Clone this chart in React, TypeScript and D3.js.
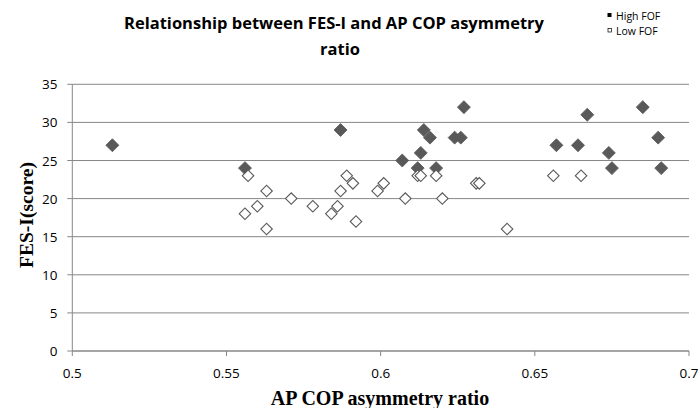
import React from "react";
import * as d3 from "d3";

const highX = [0.513, 0.556, 0.587, 0.607, 0.612, 0.613, 0.614, 0.616, 0.618, 0.624, 0.626, 0.627, 0.657, 0.664, 0.667, 0.674, 0.675, 0.685, 0.69, 0.691];
const highY = [27, 24, 29, 25, 24, 26, 29, 28, 24, 28, 28, 32, 27, 27, 31, 26, 24, 32, 28, 24];

const lowX = [0.556, 0.557, 0.56, 0.563, 0.563, 0.571, 0.578, 0.584, 0.586, 0.587, 0.589, 0.591, 0.592, 0.599, 0.601, 0.608, 0.612, 0.613, 0.618, 0.62, 0.631, 0.632, 0.641, 0.656, 0.665];
const lowY = [18, 23, 19, 21, 16, 20, 19, 18, 19, 21, 23, 22, 17, 21, 22, 20, 23, 23, 23, 20, 22, 22, 16, 23, 23];

const xTicks = [0.5, 0.55, 0.6, 0.65, 0.7];
const yTicks = [0, 5, 10, 15, 20, 25, 30, 35];
const xTickLabels = ["0.5", "0.55", "0.6", "0.65", "0.7"];

const W = 698;
const H = 408;
const left = 72.3;
const right = 689;
const top = 84.3;
const bottom = 351;

export default function App() {
  const x = d3.scaleLinear().domain([0.5, 0.7]).range([left, right]);
  const y = d3.scaleLinear().domain([0, 35]).range([bottom, top]);
  const diamond = d3.symbol().type(d3.symbolSquare).size(84)();
  const diamondOpen = d3.symbol().type(d3.symbolSquare).size(66)();
  const grid = "#878787";
  const markerCol = "#595959";
  const sans = "'Open Sans', 'Noto Sans', sans-serif";
  const serif = "'Liberation Serif', 'Times New Roman', serif";

  return (
    <svg width={W} height={H} style={{ position: "absolute", left: 0, top: 0, background: "#fff" }}>
      {/* title */}
      <text x={334} y={29} textAnchor="middle" fontFamily={sans} fontWeight="bold" fontSize={16.5} fill="#000">
        Relationship between FES-I and AP COP asymmetry
      </text>
      <text x={340} y={55} textAnchor="middle" fontFamily={sans} fontWeight="bold" fontSize={16.5} fill="#000">
        ratio
      </text>
      {/* legend */}
      <rect x={607.5} y={13} width={4} height={4} fill="#000" />
      <text x={616} y={19.5} fontFamily={sans} fontSize={10.5} fill="#000">High FOF</text>
      <rect x={608} y={28.5} width={3.5} height={3.5} fill="#fff" stroke="#000" strokeWidth={0.7} />
      <text x={616} y={34.5} fontFamily={sans} fontSize={10.5} fill="#000">Low FOF</text>

      {/* gridlines and y ticks */}
      {yTicks.map((t) => (
        <line key={"g" + t} x1={left - 5} x2={right} y1={y(t)} y2={y(t)} stroke={grid} strokeWidth={1} />
      ))}
      {yTicks.map((t) => (
        <text key={"yl" + t} x={57.5} y={y(t) + 5} textAnchor="end" fontFamily={sans} fontSize={13.5} fill="#000">
          {t}
        </text>
      ))}
      {/* axes */}
      <line x1={left} x2={left} y1={top} y2={bottom} stroke={grid} strokeWidth={1} />
      <line x1={left} x2={right} y1={bottom} y2={bottom} stroke={grid} strokeWidth={1} />
      {xTicks.map((t, i) => (
        <g key={"x" + t}>
          <line x1={x(t)} x2={x(t)} y1={bottom} y2={bottom + 5} stroke={grid} strokeWidth={1} />
          <text x={x(t)} y={bottom + 27} textAnchor="middle" fontFamily={sans} fontSize={13.5} fill="#000">
            {xTickLabels[i]}
          </text>
        </g>
      ))}

      {/* axis titles */}
      <text x={380} y={404.5} textAnchor="middle" fontFamily={serif} fontWeight="bold" fontSize={20} fill="#000">
        AP COP asymmetry ratio
      </text>
      <text
        transform={`translate(32.5, 215) rotate(-90)`}
        textAnchor="middle"
        fontFamily={serif}
        fontWeight="bold"
        fontSize={19.5}
        fill="#000"
      >
        FES-I(score)
      </text>

      {/* High FOF */}
      {highX.map((v, i) => (
        <path
          key={"h" + i}
          d={diamond}
          transform={`translate(${x(v)},${y(highY[i])}) rotate(45)`}
          fill={markerCol}
          stroke={markerCol}
          strokeWidth={0.8}
        />
      ))}
      {/* Low FOF */}
      {lowX.map((v, i) => (
        <path
          key={"l" + i}
          d={diamondOpen}
          transform={`translate(${x(v)},${y(lowY[i])}) rotate(45)`}
          fill="#fff"
          stroke={markerCol}
          strokeWidth={1.1}
        />
      ))}
    </svg>
  );
}
